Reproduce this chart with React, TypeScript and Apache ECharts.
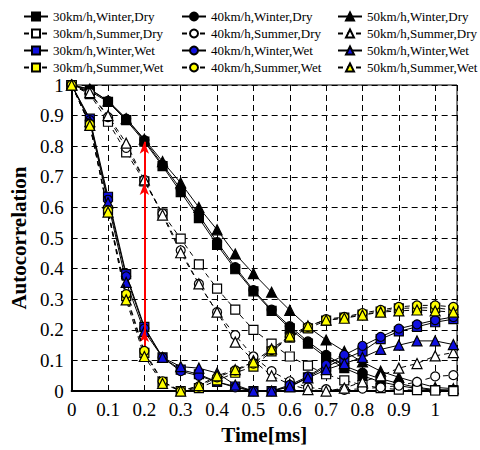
import React, { useEffect, useRef } from "react";
import * as echarts from "echarts";

const times = [0, 0.05, 0.1, 0.15, 0.2, 0.25, 0.3, 0.35, 0.4, 0.45, 0.5, 0.55, 0.6, 0.65, 0.7, 0.75, 0.8, 0.85, 0.9, 0.95, 1.0, 1.05];

const dryWinter30 = [1, 0.98, 0.945, 0.885, 0.815, 0.735, 0.65, 0.565, 0.478, 0.398, 0.326, 0.262, 0.205, 0.155, 0.11, 0.075, 0.05, 0.03, 0.018, 0.008, 0.003, 0.003];
const dryWinter40 = [1, 0.985, 0.948, 0.89, 0.82, 0.74, 0.66, 0.575, 0.487, 0.405, 0.33, 0.266, 0.212, 0.162, 0.118, 0.082, 0.06, 0.04, 0.025, 0.012, 0.005, 0.003];
const dryWinter50 = [1, 0.987, 0.948, 0.89, 0.823, 0.75, 0.68, 0.6, 0.527, 0.448, 0.384, 0.323, 0.264, 0.21, 0.167, 0.13, 0.095, 0.065, 0.045, 0.028, 0.012, 0.008];

const drySummer30 = [1, 0.97, 0.88, 0.78, 0.685, 0.58, 0.498, 0.414, 0.335, 0.266, 0.2, 0.155, 0.113, 0.083, 0.055, 0.035, 0.02, 0.01, 0.005, 0.003, 0.002, 0.0];
const drySummer40 = [1, 0.975, 0.895, 0.795, 0.69, 0.58, 0.46, 0.35, 0.258, 0.183, 0.113, 0.065, 0.032, 0.012, 0.006, 0.004, 0.008, 0.012, 0.018, 0.03, 0.048, 0.052];
const drySummer50 = [1, 0.975, 0.9, 0.81, 0.69, 0.575, 0.452, 0.35, 0.258, 0.16, 0.1, 0.05, 0.022, 0.005, 0.0, 0.01, 0.03, 0.05, 0.075, 0.09, 0.115, 0.126];

const wetWinter30 = [1, 0.89, 0.635, 0.382, 0.21, 0.11, 0.07, 0.055, 0.03, 0.015, 0.0, 0.0, 0.015, 0.045, 0.08, 0.105, 0.13, 0.17, 0.195, 0.21, 0.225, 0.235];
const wetWinter40 = [1, 0.885, 0.625, 0.375, 0.205, 0.11, 0.065, 0.05, 0.03, 0.012, 0.0, 0.0, 0.02, 0.048, 0.086, 0.118, 0.148, 0.177, 0.204, 0.218, 0.232, 0.242];
const wetWinter50 = [1, 0.88, 0.615, 0.355, 0.195, 0.11, 0.08, 0.075, 0.059, 0.02, 0.0, 0.0, 0.014, 0.043, 0.07, 0.09, 0.11, 0.136, 0.15, 0.164, 0.164, 0.152];

const wetSummer30 = [1, 0.87, 0.59, 0.31, 0.125, 0.03, 0.0, 0.01, 0.035, 0.06, 0.08, 0.13, 0.175, 0.205, 0.23, 0.24, 0.25, 0.26, 0.27, 0.272, 0.272, 0.265];
const wetSummer40 = [1, 0.872, 0.59, 0.317, 0.131, 0.032, 0.0, 0.015, 0.045, 0.068, 0.09, 0.134, 0.177, 0.21, 0.235, 0.242, 0.255, 0.265, 0.275, 0.28, 0.28, 0.275];
const wetSummer50 = [1, 0.868, 0.585, 0.298, 0.113, 0.025, 0.0, 0.018, 0.05, 0.07, 0.095, 0.138, 0.18, 0.213, 0.232, 0.238, 0.248, 0.258, 0.262, 0.265, 0.262, 0.258];

const arrowX = 0.2;
const arrowFrom = [0.13, 0.2, 0.68];
const arrowTo = [0.2, 0.68, 0.815];

const speeds = ["30km/h", "40km/h", "50km/h"];
const conditions = ["Winter,Dry", "Summer,Dry", "Winter,Wet", "Summer,Wet"];

const FONT = "'Liberation Serif', 'Times New Roman', Times, serif";

export default function App() {
  const ref = useRef<HTMLDivElement>(null);
  useEffect(() => {
    if (!ref.current) return;
    document.body.style.margin = "0";
    const chart = echarts.init(ref.current, null, { renderer: "svg" });
    const dataBySpeed = [
      [dryWinter30, drySummer30, wetWinter30, wetSummer30],
      [dryWinter40, drySummer40, wetWinter40, wetSummer40],
      [dryWinter50, drySummer50, wetWinter50, wetSummer50],
    ];
    const symbols = ["rect", "circle", "triangle"];
    const fills = ["#000000", "#ffffff", "#1010e0", "#ffff00"];
    const series: any[] = [];
    const legends: any[] = [];
    const legendLeft = [18, 176, 332];
    speeds.forEach((sp, si) => {
      const names: string[] = [];
      conditions.forEach((c, ci) => {
        const name = sp + "," + c;
        names.push(name);
        const vals = dataBySpeed[si][ci];
        const summer = ci === 1 || ci === 3;
        series.push({
          name,
          type: "line",
          data: times.map((t, i) => [t, vals[i]]),
          symbol: symbols[si],
          symbolSize: si === 2 ? 10 : 9,
          showAllSymbol: true,
          lineStyle: { color: "#000", width: 1, type: summer ? [5, 4] : "solid" },
          itemStyle: { color: fills[ci], borderColor: "#000", borderWidth: 1.2 },
          z: 2 + ci,
        });
      });
      legends.push({
        data: names,
        orient: "vertical",
        left: legendLeft[si],
        top: 5,
        itemGap: 4,
        itemWidth: 24,
        itemHeight: 10,
        textStyle: { fontFamily: FONT, fontSize: 13, lineHeight: 10, color: "#000" },
        selectedMode: false,
      });
    });
    series.push({
      name: "arrows",
      type: "line",
      data: [],
      markLine: {
        silent: true,
        symbol: ["none", "arrow"],
        symbolSize: [7, 12],
        label: { show: false },
        lineStyle: { color: "#ff0000", width: 2, type: "solid" },
        data: arrowFrom.map((f, i) => [
          { coord: [arrowX, f] },
          { coord: [arrowX, arrowTo[i]] },
        ]),
      },
    });
    chart.setOption({
      animation: false,
      textStyle: { fontFamily: FONT },
      legend: legends,
      grid: {
        left: 66,
        right: 23,
        top: 85,
        bottom: 55,
        show: true,
        borderColor: "#000",
        borderWidth: 1,
        backgroundColor: "transparent",
      },
      xAxis: {
        type: "value",
        min: 0,
        max: 1.06,
        interval: 0.1,
        name: "Time[ms]",
        nameLocation: "middle",
        nameGap: 32,
        nameTextStyle: { fontFamily: FONT, fontSize: 21, fontWeight: "bold", color: "#000" },
        axisLine: { lineStyle: { color: "#000", width: 2 } },
        axisTick: { show: false },
        axisLabel: {
          fontFamily: FONT,
          fontSize: 19,
          color: "#000",
          margin: 9,
          showMaxLabel: false,
          formatter: (v: number) => (Math.abs(v * 10 - Math.round(v * 10)) < 1e-6 ? String(Math.round(v * 10) / 10) : ""),
        },
        splitLine: { show: true, lineStyle: { color: "#000", type: [6, 4], width: 1 } },
      },
      yAxis: {
        type: "value",
        min: 0,
        max: 1,
        interval: 0.1,
        name: "Autocorrelation",
        nameLocation: "middle",
        nameGap: 37,
        nameRotate: 90,
        nameTextStyle: { fontFamily: FONT, fontSize: 21, fontWeight: "bold", color: "#000" },
        axisLine: { show: true, lineStyle: { color: "#000", width: 2 } },
        axisTick: { show: false },
        axisLabel: {
          fontFamily: FONT,
          fontSize: 19,
          color: "#000",
          margin: 8,
          formatter: (v: number) => String(Math.round(v * 10) / 10),
        },
        splitLine: { show: true, lineStyle: { color: "#000", type: [6, 4], width: 1 } },
      },
      series,
    });
    return () => chart.dispose();
  }, []);
  return <div ref={ref} style={{ width: 480, height: 450 }} />;
}
